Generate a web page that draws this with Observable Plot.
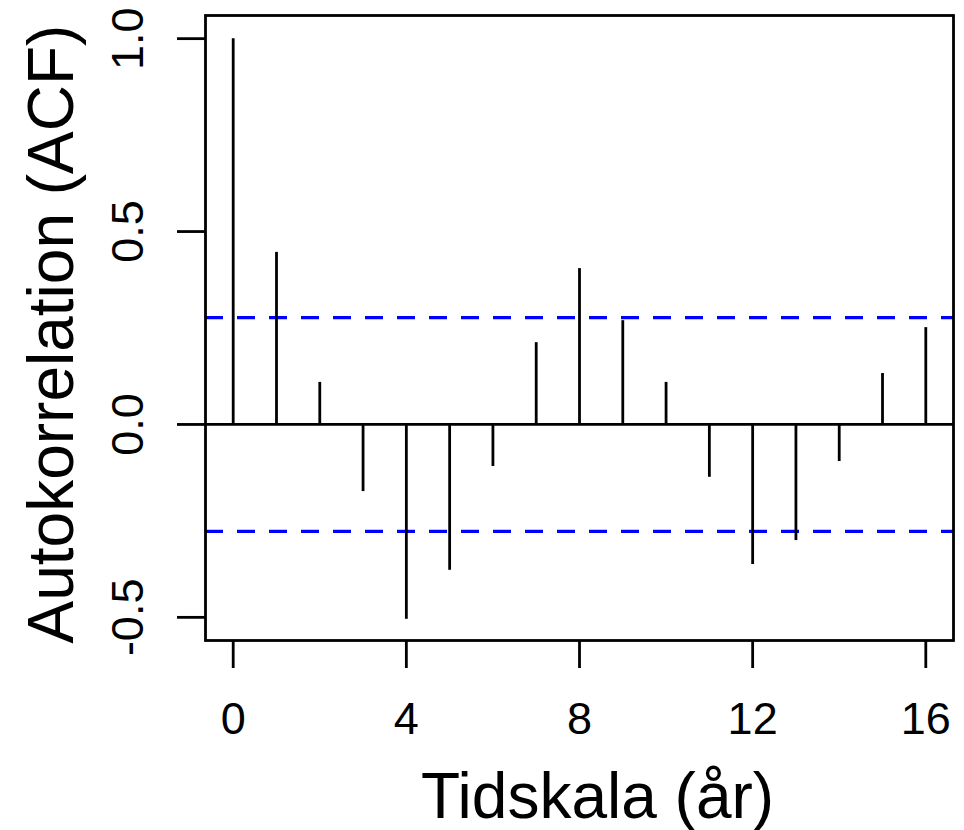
<!DOCTYPE html>
<html>
<head>
<meta charset="utf-8">
<script src="https://cdn.jsdelivr.net/npm/d3@7"></script>
<script src="https://cdn.jsdelivr.net/npm/@observablehq/plot@0.6"></script>
<style>
  html, body { margin: 0; padding: 0; background: #fff; }
  svg { display: block; }
</style>
</head>
<body>
<div id="chart"></div>
<script>
const lags = [0, 1, 2, 3, 4, 5, 6, 7, 8, 9, 10, 11, 12, 13, 14, 15, 16];
const acfValues = [1.0, 0.446, 0.109, -0.174, -0.505, -0.378, -0.109, 0.212, 0.404, 0.269, 0.109, -0.137, -0.363, -0.301, -0.096, 0.132, 0.251];
const ciLevel = 0.277;
const xTicks = [0, 4, 8, 12, 16];
const yTicks = [-0.5, 0.0, 0.5, 1.0];
const xTitle = "Tidskala (år)";
const yTitle = "Autokorrelation (ACF)";

const data = lags.map((lag, i) => ({lag, acf: acfValues[i]}));
const ciLines = [ciLevel, -ciLevel];

const chart = Plot.plot({
  width: 964,
  height: 830,
  marginLeft: 205,
  marginTop: 15,
  marginRight: 11,
  marginBottom: 190,
  style: {fontFamily: "Liberation Sans, Arial, sans-serif", fontSize: "45px", background: "#fff", color: "black"},
  x: {domain: [-0.64, 16.64]},
  y: {domain: [-0.56, 1.06]},
  marks: [
    Plot.ruleY(ciLines, {y: d => d, stroke: "#0000ff", strokeWidth: 3.2, strokeDasharray: "18,14"}),
    Plot.ruleY([0], {stroke: "black", strokeWidth: 2.8}),
    Plot.ruleX(data, {x: "lag", y1: 0, y2: "acf", stroke: "black", strokeWidth: 2.8}),
    Plot.frame({stroke: "black", strokeWidth: 2.8}),
    Plot.axisX({ticks: xTicks, tickSize: 28, tickPadding: 34, strokeWidth: 2.8, fontSize: 45, label: null, tickFormat: d => String(d)}),
    Plot.axisY({ticks: yTicks, tickSize: 28, strokeWidth: 2.8, label: null, tickFormat: () => ""}),
    Plot.text(yTicks, {y: d => d, text: d => d.toFixed(1), frameAnchor: "left", rotate: -90, dx: -63, lineAnchor: "bottom", textAnchor: "middle", fontSize: 45}),
    Plot.text([yTitle], {text: d => d, frameAnchor: "left", rotate: -90, dx: -133, dy: 6, lineAnchor: "bottom", textAnchor: "middle", fontSize: 64}),
    Plot.text([xTitle], {text: d => d, frameAnchor: "bottom", dy: 177, dx: 18, lineAnchor: "bottom", textAnchor: "middle", fontSize: 64})
  ]
});
document.getElementById("chart").appendChild(chart);
</script>
</body>
</html>
